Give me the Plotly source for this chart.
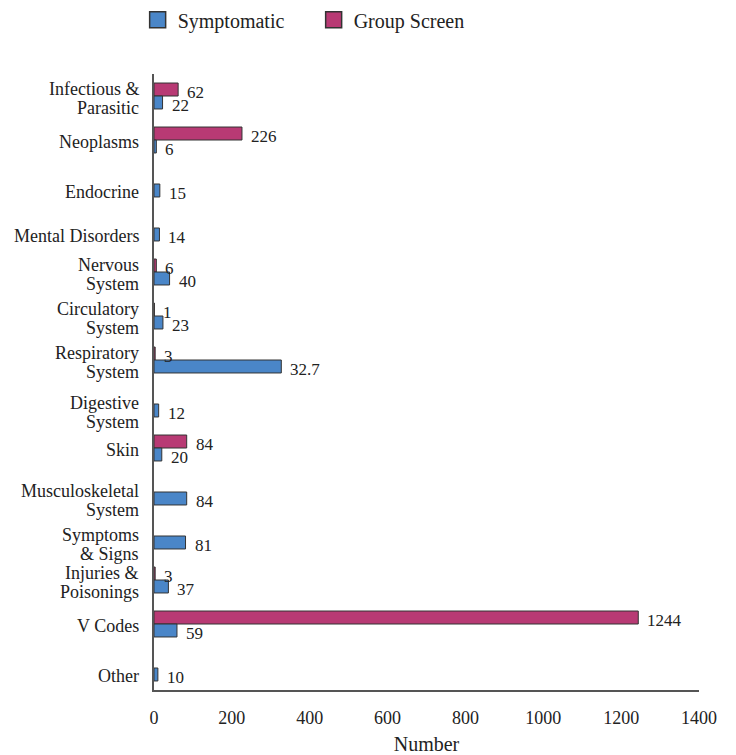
import plotly.graph_objects as go

categories = ["Infectious &<br>Parasitic", "Neoplasms", "Endocrine", "Mental Disorders",
              "Nervous<br>System", "Circulatory<br>System", "Respiratory<br>System",
              "Digestive<br>System", "Skin", "Musculoskeletal<br>System",
              "Symptoms<br>& Signs", "Injuries &<br>Poisonings", "V Codes", "Other"]
symptomatic = [22, 6, 15, 14, 40, 23, 327, 12, 20, 84, 81, 37, 59, 10]
symptomatic_labels = ["22", "6", "15", "14", "40", "23", "32.7", "12", "20", "84", "81", "37", "59", "10"]
group_screen = [62, 226, None, None, 6, 1, 3, None, 84, None, None, 3, 1244, None]
group_labels = ["62", "226", None, None, "6", "1", "3", None, "84", None, None, "3", "1244", None]
x_ticks = [0, 200, 400, 600, 800, 1000, 1200, 1400]

BLUE = "#4A86C8"
MAGENTA = "#B83A74"
EDGE = "#333333"
FONT = "Liberation Serif, Times New Roman, serif"
TXT = "#222222"
BARGAP = 0.41
half = (1 - BARGAP) / 4  # center offset of each bar within group
LINE_H = 19  # line spacing of category labels in px

fig = go.Figure()
fig.add_trace(go.Bar(
    name="Group Screen", y=categories, x=group_screen, orientation="h",
    marker=dict(color=MAGENTA, line=dict(color=EDGE, width=1)), showlegend=False,
))
fig.add_trace(go.Bar(
    name="Symptomatic", y=categories, x=symptomatic, orientation="h",
    marker=dict(color=BLUE, line=dict(color=EDGE, width=1)), showlegend=False,
))
# legend entries with larger square swatches
for name, col in [("Symptomatic", BLUE), ("Group Screen", MAGENTA)]:
    fig.add_trace(go.Scatter(
        name=name, x=[None], y=[None], mode="markers",
        marker=dict(symbol="square", size=16, color=col, line=dict(color=EDGE, width=1.5)),
        showlegend=True, hoverinfo="skip",
    ))

annotations = []
for i, (v, t) in enumerate(zip(group_screen, group_labels)):
    if v is None:
        continue
    annotations.append(dict(x=v, y=i - half, xref="x", yref="y", text=t, showarrow=False,
                            xanchor="left", yanchor="middle", xshift=7, yshift=-3,
                            font=dict(family=FONT, size=17, color=TXT)))
for i, (v, t) in enumerate(zip(symptomatic, symptomatic_labels)):
    annotations.append(dict(x=v, y=i + half, xref="x", yref="y", text=t, showarrow=False,
                            xanchor="left", yanchor="middle", xshift=7, yshift=-3,
                            font=dict(family=FONT, size=17, color=TXT)))

# category labels, one annotation per line for tight line spacing;
# categories with only one bar have the label aligned with that bar
for i, cat in enumerate(categories):
    lines = cat.split("<br>")
    n = len(lines)
    yc = i + half if group_screen[i] is None else i
    for j, line in enumerate(lines):
        shift = ((n - 1) / 2 - j) * LINE_H - 2
        annotations.append(dict(x=0, y=yc, xref="paper", yref="y", text=line, showarrow=False,
                                xanchor="right", yanchor="middle", xshift=-13, yshift=shift,
                                font=dict(family=FONT, size=18, color=TXT)))

# page body adds an 8px offset; figure sized so that the plot sits where the reference has it
fig.update_layout(
    width=728, height=747,
    margin=dict(l=146, r=37, t=66, b=65, autoexpand=False),
    paper_bgcolor="white", plot_bgcolor="white",
    barmode="group", bargap=BARGAP, bargroupgap=0,
    font=dict(family=FONT, size=18, color=TXT),
    showlegend=True,
    legend=dict(orientation="h", x=-0.03, xanchor="left", y=1.088, yanchor="middle",
                font=dict(family=FONT, size=20, color=TXT), itemsizing="trace",
                traceorder="normal", entrywidth=131, entrywidthmode="pixels"),
    annotations=annotations,
    xaxis=dict(range=[0, 1400], tickvals=x_ticks, showgrid=False, zeroline=False,
               showline=True, linecolor="#555555", linewidth=1.5, ticks="",
               ticklabelstandoff=11, automargin=False,
               tickfont=dict(family=FONT, size=18, color=TXT),
               title=dict(text="Number", standoff=13,
                          font=dict(family=FONT, size=20, color=TXT))),
    yaxis=dict(categoryorder="array", categoryarray=categories, range=[13.5, -0.5],
               showgrid=False, zeroline=False, showline=True, linecolor="#555555",
               linewidth=1.5, ticks="", showticklabels=False, automargin=False),
)

fig.write_html("out.html")
